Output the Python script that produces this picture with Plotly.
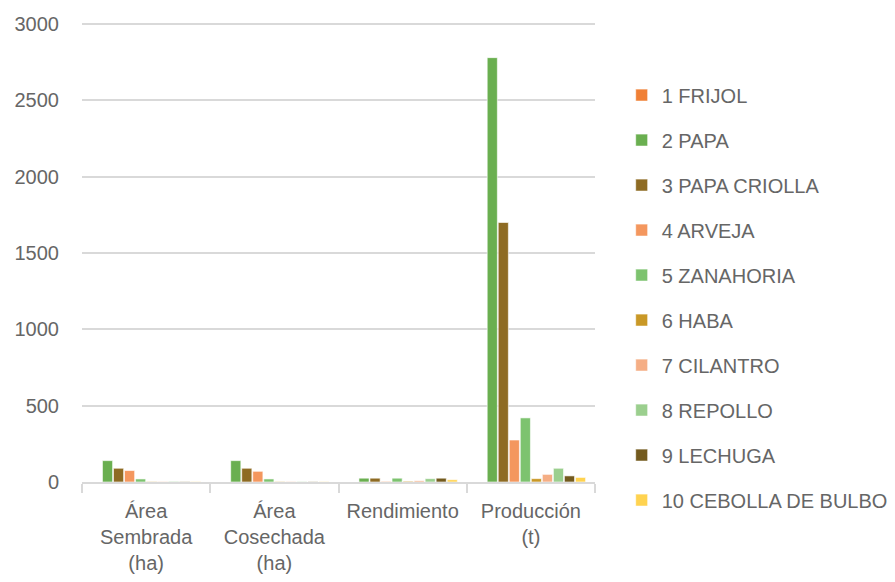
import plotly.graph_objects as go

categorias = ['Área<br>Sembrada<br>(ha)', 'Área<br>Cosechada<br>(ha)', 'Rendimiento', 'Producción<br>(t)']

cultivos = ['1 FRIJOL', '2 PAPA', '3 PAPA CRIOLLA', '4 ARVEJA', '5 ZANAHORIA',
            '6 HABA', '7 CILANTRO', '8 REPOLLO', '9 LECHUGA', '10 CEBOLLA DE BULBO']

frijol = [0, 0, 0, 0]
papa = [140, 140, 25, 2780]
papa_criolla = [90, 90, 25, 1700]
arveja = [75, 70, 4, 275]
zanahoria = [20, 20, 25, 420]
haba = [3, 3, 5, 22]
cilantro = [3, 3, 8, 50]
repollo = [4, 3, 22, 90]
lechuga = [2, 2, 25, 40]
cebolla = [2, 2, 15, 30]

valores = [frijol, papa, papa_criolla, arveja, zanahoria, haba, cilantro, repollo, lechuga, cebolla]

colores = ['#F08036', '#6AAF50', '#8E6B23', '#F4975E', '#7DC36F',
           '#C99826', '#F5AE85', '#9BCF8E', '#735A1E', '#FFD350']

fuente = 'Liberation Sans, Arial, sans-serif'
gris = '#666666'

fig = go.Figure()
for nombre, ys, color in zip(cultivos, valores, colores):
    fig.add_trace(go.Bar(name=nombre, x=categorias, y=ys, legendgroup=nombre,
                         marker=dict(color=color, line=dict(color='rgba(255,255,255,0.6)', width=1))))

# la pagina tiene 8px de margen en el body
fig.update_layout(
    width=895, height=582,
    barmode='group', bargap=0.14, bargroupgap=0.08,
    paper_bgcolor='white', plot_bgcolor='white',
    margin=dict(l=74, r=308, t=13, b=108, autoexpand=False),
    font=dict(family=fuente, size=20, color=gris),
    showlegend=True,
    legend=dict(x=1.052, xanchor='left', y=0.4, yanchor='middle',
                tracegroupgap=16, font=dict(size=20, color=gris),
                traceorder='grouped'),
)
# rango un poco mas alto para que se vea la linea de 3000
fig.update_yaxes(range=[0, 3020], tickvals=[0, 500, 1000, 1500, 2000, 2500, 3000],
                 showgrid=True, gridcolor='#D9D9D9', gridwidth=1.5,
                 zeroline=False, showline=False, ticks='', ticklabelstandoff=22, automargin=False)
fig.update_xaxes(showline=True, linecolor='#D9D9D9', linewidth=1.5, ticks='outside',
                 tickson='boundaries', ticklen=9, tickcolor='#D9D9D9', tickwidth=1.5,
                 tickangle=0, automargin=False, ticklabelstandoff=10)

fig.write_html("out.html")
